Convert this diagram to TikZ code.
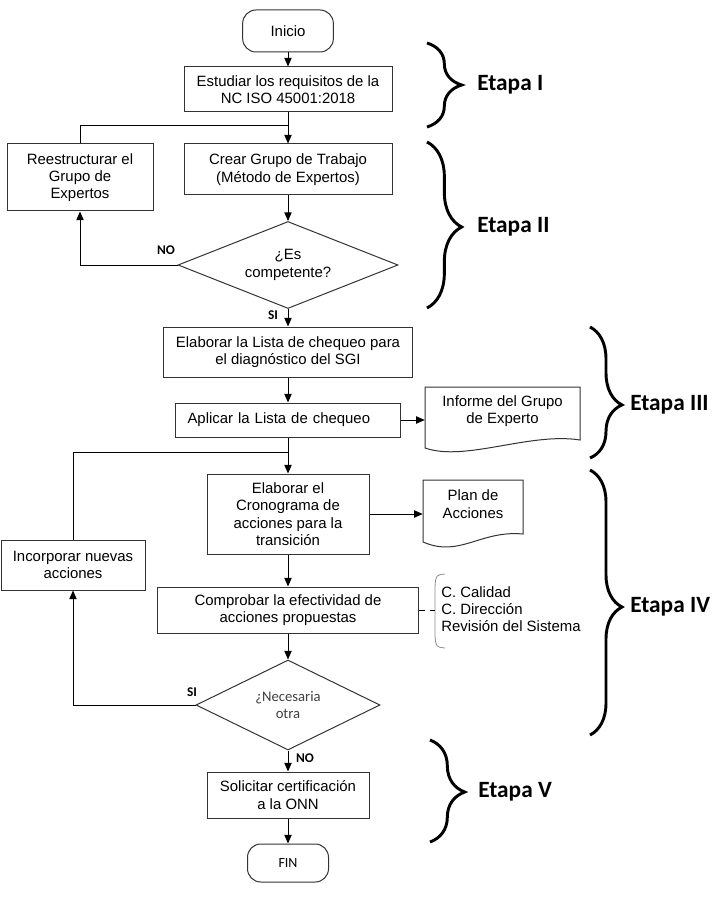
\documentclass[tikz,border=0pt]{standalone}
\usepackage{fontspec}
\setmainfont{Liberation Sans}
\newfontfamily\calfont{Carlito}
\usetikzlibrary{shapes.geometric,arrows.meta,decorations.pathreplacing}

\tikzset{
  proc/.style={draw=black!80, line width=0.75pt, align=center, inner sep=0pt, font=\fontsize{11.2}{13}\selectfont},
  term/.style={proc, rounded corners=10pt},
  dec/.style={diamond, draw=black!80, line width=0.75pt, aspect=2.5, inner sep=0pt, align=center},
  doctext/.style={align=center, inner sep=0pt, font=\fontsize{11.2}{13}\selectfont},
  docline/.style={draw=black!80, line width=0.75pt},
  flow/.style={line width=0.75pt, -{Triangle[length=6.5pt,width=5.5pt]}},
  link/.style={line width=0.75pt},
  lbl/.style={inner sep=0pt, font=\calfont\bfseries\fontsize{10}{12}\selectfont},
  brc/.style 2 args={decorate, decoration={brace, amplitude=#1, aspect=#2}, line width=2.2pt},
  etapa/.style={anchor=west, inner sep=0pt, font=\calfont\bfseries\fontsize{17.5}{20}\selectfont},
}

\begin{document}
\begin{tikzpicture}[x=0.75pt,y=0.75pt,yscale=-1,xscale=1]
\path[use as bounding box] (0,0) rectangle (711,902);

% Terminal Nodes
\node[term, minimum width=68pt, minimum height=31.5pt] (inicio) at (288,31) {Inicio};
\node[term, minimum width=60.75pt, minimum height=28.5pt, font=\calfont\fontsize{10.5}{12}\selectfont] (fin) at (288,863) {FIN};

% Process Nodes
\node[proc, minimum width=156pt, minimum height=33.75pt] (estudiar) at (288,89.5) {Estudiar los requisitos de la\\NC ISO 45001:2018};
\node[proc, minimum width=156pt, minimum height=38.25pt] (crear) at (288,169.5) {Crear Grupo de Trabajo\\(Método de Expertos)};
\node[proc, minimum width=109.5pt, minimum height=50.25pt] (reestr) at (80,177.5) {Reestructurar el\\Grupo de\\Expertos};
\node[proc, minimum width=186.75pt, minimum height=37.5pt] (lista) at (288,352) {Elaborar la Lista de chequeo para\\el diagnóstico del SGI};
\node[proc, minimum width=168.75pt, minimum height=25.5pt, text width=150.75pt, inner xsep=9pt, align=left] (aplicar) at (288,420) {Aplicar la Lista de chequeo};
\node[proc, minimum width=121.5pt, minimum height=60pt] (crono) at (288,514) {Elaborar el\\Cronograma de\\acciones para la\\transición};
\node[proc, minimum width=108pt, minimum height=37.5pt] (incorp) at (73,565) {Incorporar nuevas\\acciones};
\node[proc, minimum width=195.75pt, minimum height=34.5pt] (comprobar) at (288,610) {Comprobar la efectividad de\\acciones propuestas};
\node[proc, minimum width=121.5pt, minimum height=34.5pt] (solicitar) at (288,795) {Solicitar certificación\\a la ONN};

% Decision Nodes
\node[dec, minimum width=165pt, minimum height=65.25pt, font=\fontsize{11.2}{13}\selectfont] (compet) at (288,265) {¿Es\\competente?};
\node[dec, aspect=2, minimum width=138pt, minimum height=67.5pt, text=black!75, font=\calfont\fontsize{11}{13}\selectfont] (otra) at (288,705) {¿Necesaria\\otra};

% Document Nodes
\node[doctext, minimum width=116.25pt] (informe) at (502.5,411) {Informe del Grupo\\de Experto};
\draw[docline] (425,387) -- (580,387) -- (580,440) .. controls (530,432) and (465,462) .. (425,448) -- cycle;
\node[doctext, minimum width=75pt] (plan) at (473,504) {Plan de\\Acciones};
\draw[docline] (423,480) -- (523,480) -- (523,534) .. controls (480,530) and (460,558) .. (423,542) -- cycle;

% Notes
\node[doctext, anchor=west, align=left] (notas) at (441,609) {C. Calidad\\C. Dirección\\Revisión del Sistema};
\draw[draw=black!45, line width=0.6pt] (445,574) .. controls (436,575) .. (435,586) -- (435,636) .. controls (436,647) .. (445,648);
\coordinate (brk) at (435,610);

% Junctions
\coordinate (j1) at (288,126);
\coordinate (j2) at (288,452);

% Connectors
\draw[flow] (inicio.south) -- (estudiar.north);
\draw[flow] (estudiar.south) -- (crear.north);
\draw[link] (reestr.north) |- (j1);
\draw[flow] (crear.south) -- (compet.north);
\draw[flow] (compet.west) -| (reestr.south);
\draw[flow] (compet.south) -- (lista.north);
\draw[flow] (lista.south) -- (aplicar.north);
\draw[flow] (aplicar.east) -- (aplicar.east -| informe.west);
\draw[flow] (aplicar.south) -- (crono.north);
\draw[link] (incorp.north) |- (j2);
\draw[flow] (crono.east) -- (crono.east -| plan.west);
\draw[flow] (crono.south) -- (comprobar.north);
\draw[link, dash pattern=on 4.5pt off 3.5pt] (comprobar.east) -- (brk);
\draw[flow] (comprobar.south) -- (otra.north);
\draw[flow] (otra.west) -| (incorp.south);
\draw[flow] (otra.south) -- (solicitar.north);
\draw[flow] (solicitar.south) -- (fin.north);

% Labels
\node[lbl] (no1) at (166,250) {NO};
\node[lbl] (si1) at (273,315) {SI};
\node[lbl] (si2) at (192,692) {SI};
\node[lbl] (no2) at (305,758) {NO};

% Braces
\draw[brc={26pt}{0.5}] (427,43) -- (427,127);
\draw[brc={26pt}{0.512}] (427,142) -- (427,308);
\draw[brc={24pt}{0.595}] (590,327) -- (590,458);
\draw[brc={24pt}{0.517}] (590,470) -- (590,735);
\draw[brc={26pt}{0.51}] (430,740) -- (430,842);

% Stage Labels
\node[etapa] (etI) at (477,85) {Etapa I};
\node[etapa] (etII) at (477,227) {Etapa II};
\node[etapa] (etIII) at (630,405) {Etapa III};
\node[etapa] (etIV) at (630,607) {Etapa IV};
\node[etapa] (etV) at (478,792) {Etapa V};

\end{tikzpicture}
\end{document}
